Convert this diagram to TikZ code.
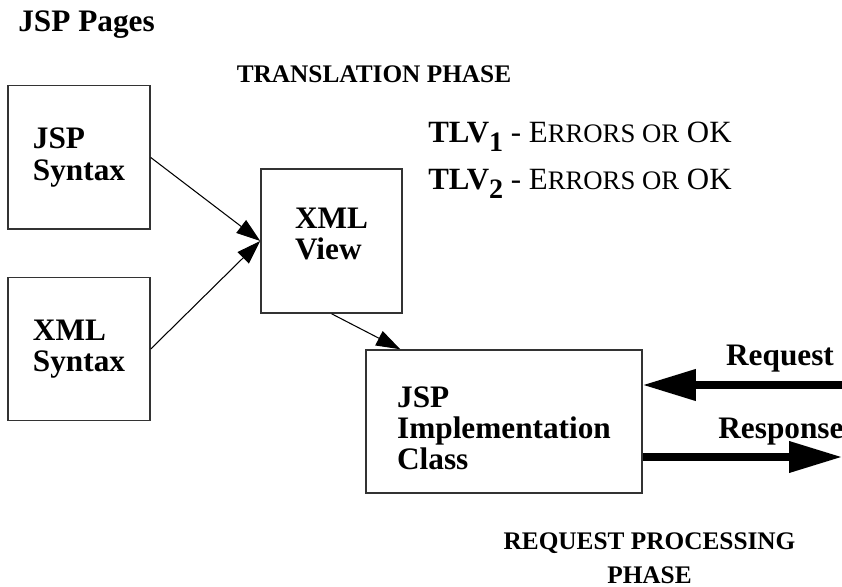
\documentclass[tikz,border=0pt]{standalone}
\usepackage{fontspec}
\setmainfont{Liberation Serif}
\usepackage{tikz}
\usetikzlibrary{arrows.meta, positioning, shapes}

\newcommand{\bigtext}{\fontsize{17.8}{17.8}\selectfont\bfseries}
\newcommand{\phasetext}{\fontsize{14.4}{18.8}\selectfont\bfseries}
\newcommand{\smallcap}[1]{{\fontsize{15.2}{15.2}\selectfont #1}}
\newcommand{\tlvsub}[1]{\raisebox{-5pt}{\fontsize{16}{16}\selectfont #1}}

\begin{document}
\begin{tikzpicture}[
  box/.style={draw=black!80, line width=0.85pt, rectangle, minimum width=2.84cm, minimum height=2.87cm, align=left, inner sep=0pt, font=\bigtext},
  thinarrow/.style={-{Triangle[length=0.48cm, width=0.32cm]}, line width=0.6pt},
  bigarrow/.style={-{Triangle[length=1.06cm, width=0.6cm]}, line width=4pt}
]
\useasboundingbox (0,0) rectangle (16.84,11.72);

% Headings
\node[anchor=base west, inner sep=0pt, font=\bigtext] (pages) at (0.36,11.08) {JSP Pages};
\node[anchor=base, inner sep=0pt, font=\phasetext] (transl) at (7.48,10.06) {TRANSLATION PHASE};
\node[anchor=base, inner sep=0pt, font=\phasetext, align=center] (reqphase) at (12.99,0.06) {REQUEST PROCESSING\\PHASE};

% TLV results
\node[anchor=base west, inner sep=0pt, font=\fontsize{17.6}{17.6}\selectfont] (tlvone) at (8.56,8.86) {\textbf{TLV\tlvsub{1}} - E\smallcap{RRORS OR} OK};
\node[anchor=base west, inner sep=0pt, font=\fontsize{17.6}{17.6}\selectfont] (tlvtwo) at (8.56,7.92) {\textbf{TLV\tlvsub{2}} - E\smallcap{RRORS OR} OK};

% Boxes
\node[box] (jspsyn) at (1.58,8.57) {JSP\\Syntax};
\node[box] (xmlsyn) at (1.58,4.74) {XML\\Syntax};
\node[box, minimum width=2.82cm, minimum height=2.88cm, text depth=8pt] (xmlview) at (6.63,6.90) {XML\\View};
\node[box, minimum width=5.52cm, minimum height=2.86cm, text height=55pt] (impl) at (10.08,3.29) {JSP\\Implementation\\Class};

% Translation arrows
\draw[thinarrow] (jspsyn.east) -- (xmlview.west);
\draw[thinarrow] (xmlsyn.east) -- (xmlview.west);
\draw[thinarrow] (xmlview.south) -- ([xshift=0.7cm]impl.north west);

% Request / response
\coordinate (reqin) at (16.84,4.02);
\coordinate (resout) at (16.84,2.58);
\draw[bigarrow] (reqin) -- (reqin -| impl.east);
\draw[bigarrow] (impl.east |- resout) -- (resout);
\node[anchor=base, inner sep=0pt, font=\bigtext] (reqlabel) at (15.6,4.40) {Request};
\node[anchor=base west, inner sep=0pt, font=\bigtext] (reslabel) at (14.36,2.96) {Response};
\end{tikzpicture}
\end{document}
